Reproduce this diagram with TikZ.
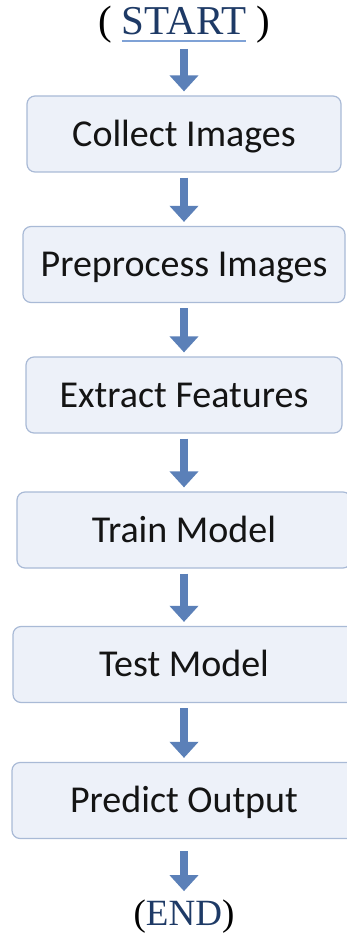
\documentclass[tikz,border=0pt]{standalone}
\usepackage{fontspec}
\setmainfont{Liberation Serif}
\setsansfont{Carlito}
\usetikzlibrary{arrows.meta}
\definecolor{navy}{HTML}{1E3A66}
\definecolor{ulblue}{HTML}{7FA2D6}
\definecolor{flowblue}{HTML}{5B80B8}
\definecolor{boxfill}{HTML}{EDF1F9}
\definecolor{boxline}{HTML}{A9BAD6}
\newcommand{\ulword}[1]{\setbox0\hbox{#1}\rlap{\color{ulblue}\rule[-7pt]{\wd0}{1.5pt}}\box0}

\begin{document}
\begin{tikzpicture}[x=1pt, y=-1pt,
    stepbox/.style={draw=boxline, line width=1.2pt, fill=boxfill, rounded corners=8pt,
        minimum height=76pt, inner sep=0pt, text height=24.5pt, text depth=0pt,
        font=\sffamily\fontsize{38}{45}\selectfont, text=black!92},
    term/.style={inner sep=0pt, font=\fontsize{41}{49}\selectfont},
    flow/.style={draw=flowblue, line width=8pt, -{Triangle[width=28pt,length=16pt]},
        shorten <=5pt, shorten >=4pt}]

    \useasboundingbox (0,0) rectangle (346,936);

    \node[term, anchor=base] (start) at (184,35) {(\ \ulword{\textcolor{navy}{START}}\ )};
    \foreach \name/\y/\w/\lbl in {collect/134/314/Collect Images, preprocess/264.5/322/Preprocess Images,
        extract/395/316/Extract Features, train/530/334/Train Model, test/664.5/342/Test Model,
        predict/800.5/344/Predict Output}
    \node[stepbox, minimum width=\w pt] (\name) at (184,\y) {\lbl};
    \node[term, anchor=base, font=\fontsize{37}{44}\selectfont] (stop) at (184,925) {(\textcolor{navy}{END})};

    \foreach \a/\b in {start/collect, collect/preprocess, preprocess/extract, extract/train,
        train/test, test/predict}
    \draw[flow] (\a) -- (\b);
    \draw[flow, shorten <=12pt, shorten >=8pt] (predict) -- (stop);

\end{tikzpicture}
\end{document}
